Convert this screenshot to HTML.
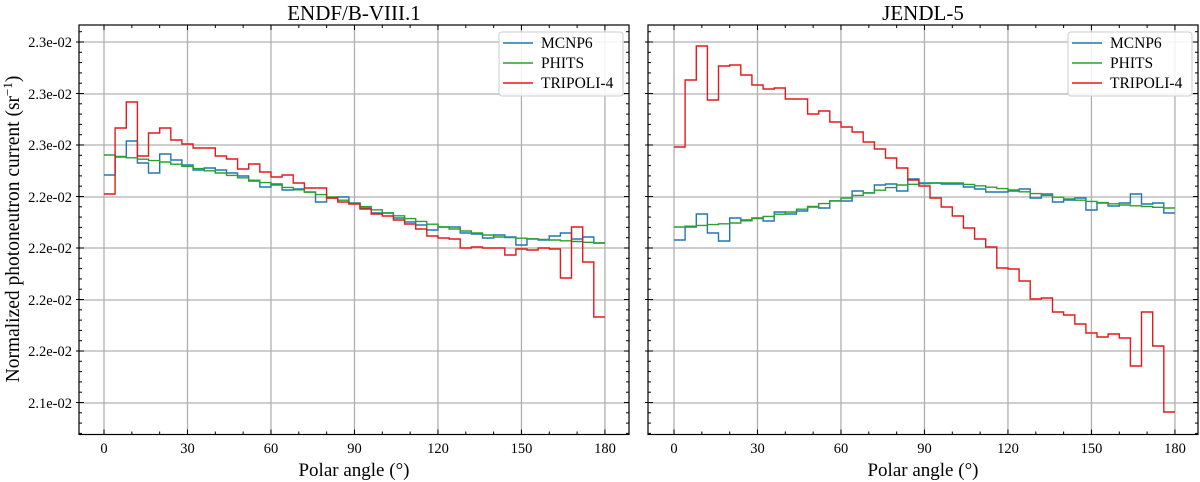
<!DOCTYPE html>
<html><head><meta charset="utf-8"><style>
html,body{margin:0;padding:0;background:#fff;}
svg{display:block;font-family:"Liberation Serif",serif;}
</style></head><body>
<svg id="s" width="1200" height="482" xmlns="http://www.w3.org/2000/svg"></svg>
<script>
const S=document.getElementById('s');
let h='';
const T=25,B=434.5,yt=[42,94,145,197,248,300,351,403];
const lab=["2.3e-02","2.3e-02","2.3e-02","2.2e-02","2.2e-02","2.2e-02","2.2e-02","2.1e-02"];
const k=2.783;
function panel(L,R,x0,title,red,blue,green,labels){
  for(let a=0;a<=180;a+=30){const x=x0+a*k;h+=`<line x1="${x}" y1="${T}" x2="${x}" y2="${B}" stroke="#b0b0b0" stroke-width="1.3"/>`;}
  yt.forEach(y=>h+=`<line x1="${L}" y1="${y}" x2="${R}" y2="${y}" stroke="#b0b0b0" stroke-width="1.3"/>`);
  function st(v,c){let d='';v.forEach((y,i)=>{const xa=x0+i*4*k,xb=x0+(i+1)*4*k;d+=(i?'L':'M')+xa.toFixed(1)+' '+y+'L'+xb.toFixed(1)+' '+y;});h+=`<path d="${d}" fill="none" stroke="${c}" stroke-width="1.4"/>`;}
  st(blue,'#1f77b4');st(green,'#2ca02c');st(red,'#e41a1c');
  h+=`<rect x="${L}" y="${T}" width="${R-L}" height="${B-T}" fill="none" stroke="#000" stroke-width="1.2"/>`;
  for(let a=-0;a<=190;a+=10){const x=x0+a*k;if(x>R)break;const mj=a%30==0;const l=mj?5:3;
    h+=`<line x1="${x}" y1="${B}" x2="${x}" y2="${B-l}" stroke="#000"/><line x1="${x}" y1="${T}" x2="${x}" y2="${T+l}" stroke="#000"/>`;
    if(mj)h+=`<text x="${x}" y="453" font-size="14.5" text-anchor="middle">${a}</text>`;}
  for(let y=42-10.3;y>T;y-=10.3){h+=`<line x1="${L}" y1="${y}" x2="${L+3}" y2="${y}" stroke="#000"/><line x1="${R}" y1="${y}" x2="${R-3}" y2="${y}" stroke="#000"/>`;}
  for(let y=42;y<B;y+=10.3){const mj=yt.some(v=>Math.abs(v-y)<2.5);const l=mj?5:3;
    h+=`<line x1="${L-(mj?3:0)}" y1="${y}" x2="${L+l}" y2="${y}" stroke="#000"/><line x1="${R}" y1="${y}" x2="${R-l}" y2="${y}" stroke="#000"/>`;}
  if(labels)yt.forEach((y,i)=>h+=`<text x="72" y="${y+5}" font-size="14.5" text-anchor="end">${lab[i]}</text>`);
  const c=(L+R)/2;
  h+=`<text x="${c}" y="20" font-size="21" text-anchor="middle">${title}</text>`;
  h+=`<text x="${c}" y="476" font-size="19" text-anchor="middle">Polar angle (°)</text>`;
  const lx=R-130;
  h+=`<rect x="${lx}" y="32" width="124" height="64" rx="3" fill="#fff" fill-opacity="0.85" stroke="#ccc"/>`;
  [['MCNP6','#1f77b4'],['PHITS','#2ca02c'],['TRIPOLI-4','#e41a1c']].forEach((e,i)=>{const y=43+i*20;
    h+=`<line x1="${lx+4}" y1="${y}" x2="${lx+34}" y2="${y}" stroke="${e[1]}" stroke-width="1.4"/><text x="${lx+42}" y="${y+5}" font-size="15.5">${e[0]}</text>`;});
}
function interp(pts){const o=[];for(let i=0;i<45;i++){for(let j=0;j<pts.length-1;j++){const [a,ya]=pts[j],[b,yb]=pts[j+1];if(i>=a&&i<=b){o.push(+(ya+(yb-ya)*(i-a)/(b-a)).toFixed(1));break;}}}return o;}
const lr=[194,128,102,156,133,128,140,144,148,148,156,159,169,164,172,177,175,183,188,188,198,202,204,209,214,216,220,224,229,236,238,239,248,247,248,248,255,249,250,248,249,278,227,262,317];
const lb=[175,157,141,163,173,154,160,165,170,168,170,173,176,181,187,184,190,189,192,202,198,197,203,208,213,213,218,222,225,230,227,227,233,234,238,235,237,245,239,240,236,233,239,237,243];
const lg=interp([[0,155],[5,162],[10,173],[15,185],[20,197],[25,213],[30,227],[35,237],[40,240],[44,243]]);
const rr=[147,80,46,100,66,65,75,85,89,88,99,99,114,111,122,127,132,142,149,158,168,180,186,198,207,216,228,239,247,268,269,281,299,298,312,315,324,333,337,334,338,366,312,346,412];
const rb=[240,227,214,233,241,218,220,218,221,212,214,211,207,208,201,201,191,193,185,184,191,179,183,183,184,184,187,189,192,192,191,189,198,194,202,200,198,210,203,206,203,194,204,203,213];
const rg=interp([[0,227],[5,223],[10,212],[15,198],[20,185],[23,183],[25,183],[30,190],[35,199],[40,205],[44,208]]);
panel(79,629,104,'ENDF/B-VIII.1',lr,lb,lg,true);
panel(648,1198,674,'JENDL-5',rr,rb,rg,false);
h+=`<text transform="translate(19,229) rotate(-90)" font-size="19.5" text-anchor="middle">Normalized photoneutron current (sr<tspan dy="-7" font-size="13">−1</tspan><tspan dy="7">)</tspan></text>`;
S.innerHTML=h;
</script>
</body></html>
